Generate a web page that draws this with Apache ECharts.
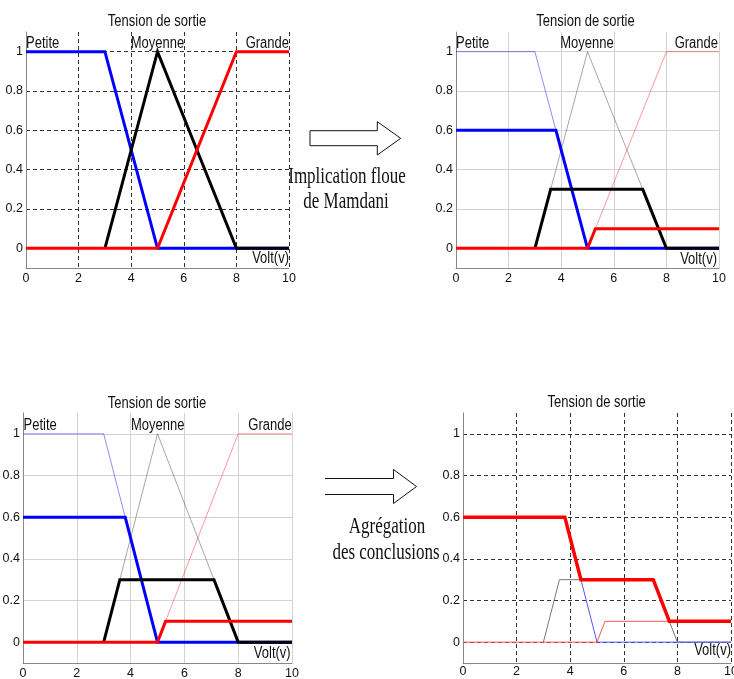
<!DOCTYPE html>
<html>
<head>
<meta charset="utf-8">
<script src="https://cdn.jsdelivr.net/npm/echarts@6/dist/echarts.min.js"></script>
<style>
  html, body { margin: 0; padding: 0; background: #fff; }
  #chart { width: 734px; height: 679px; }
</style>
</head>
<body>
<div id="chart"></div>
<script>
// Axis ticks
const xTicks = [0, 2, 4, 6, 8, 10];
const yTicks = [0, 0.2, 0.4, 0.6, 0.8, 1];

// Membership functions of the output "Tension de sortie" (x in volts, membership degree)
const petite = [[0, 1], [3, 1], [5, 0], [10, 0]];
const moyenne = [[3, 0], [5, 1], [8, 0], [10, 0]];
const grande = [[0, 0], [5, 0], [8, 1], [10, 1]];

// Mamdani implication: each set clipped at its rule strength
const petiteCut = [[0, 0.6], [3.8, 0.6], [5, 0], [10, 0]];
const moyenneCut = [[3, 0], [3.6, 0.3], [7.1, 0.3], [8, 0], [10, 0]];
const grandeCut = [[0, 0], [5, 0], [5.3, 0.1], [10, 0.1]];

// Aggregated conclusion (max of the clipped sets)
const aggregate = [[0, 0.6], [3.8, 0.6], [4.4, 0.3], [7.1, 0.3], [7.7, 0.1], [10, 0.1]];

// Text
const chartTitle = 'Tension de sortie';
const setNames = ['Petite', 'Moyenne', 'Grande'];
const xName = 'Volt(v)';
const step1 = ['Implication floue', 'de Mamdani'];
const step2 = ['Agrégation', 'des conclusions'];

const BLUE = '#0000ff', BLACK = '#000000', RED = '#ff0000';
const SANS = '"Liberation Sans", Arial, sans-serif';
const SERIF = '"Liberation Serif", "Times New Roman", serif';

const grids = [
  { left: 26, top: 32, width: 263, height: 236, outerBoundsMode: 'none' },
  { left: 456, top: 32, width: 263, height: 236, outerBoundsMode: 'none' },
  { left: 23, top: 413, width: 269, height: 250, outerBoundsMode: 'none' },
  { left: 463, top: 413, width: 268, height: 250, outerBoundsMode: 'none' }
];
const dashedGrid = { show: true, lineStyle: { color: '#333', width: 1, type: [4, 3] } };
const solidGrid = { show: true, lineStyle: { color: '#d2d2d2', width: 1, type: 'solid' } };
const gridStyles = [dashedGrid, solidGrid, solidGrid, dashedGrid];
const xMargins = [4, 4, 4, 2];

const xAxes = grids.map((g, i) => ({
  gridIndex: i, type: 'value', min: 0, max: 10, interval: 2,
  axisLine: { onZero: false, lineStyle: { color: '#888', width: 1 } },
  axisTick: { show: false },
  axisLabel: { color: '#111', fontSize: 12.5, fontFamily: SANS, margin: xMargins[i],
    showMinLabel: true, showMaxLabel: true, hideOverlap: false },
  splitLine: gridStyles[i]
}));
const yAxes = grids.map((g, i) => ({
  gridIndex: i, type: 'value', min: -0.1, max: 1.1,
  axisLine: { show: true, onZero: false, lineStyle: { color: '#888', width: 1 } },
  axisTick: { show: false, customValues: yTicks },
  axisLabel: { color: '#111', fontSize: 12.5, fontFamily: SANS, margin: 3, customValues: yTicks },
  splitLine: gridStyles[i]
}));

function line(idx, data, color, width, opacity, z) {
  return {
    type: 'line', xAxisIndex: idx, yAxisIndex: idx, data: data,
    showSymbol: false, symbol: 'none', silent: true, z: z || 2,
    lineStyle: { color: color, width: width, opacity: opacity == null ? 1 : opacity, cap: 'butt', join: 'miter' }
  };
}

const series = [
  // membership functions
  line(0, petite, BLUE, 3),
  line(0, moyenne, BLACK, 3),
  line(0, grande, RED, 3),
  // implication
  line(1, petite, BLUE, 1, 0.45),
  line(1, moyenne, BLACK, 1, 0.35),
  line(1, grande, RED, 1, 0.4),
  line(1, petiteCut, BLUE, 3),
  line(1, moyenneCut, BLACK, 3),
  line(1, grandeCut, RED, 3),
  // implication (copy before aggregation)
  line(2, petite, BLUE, 1, 0.45),
  line(2, moyenne, BLACK, 1, 0.35),
  line(2, grande, RED, 1, 0.4),
  line(2, petiteCut, BLUE, 3),
  line(2, moyenneCut, BLACK, 3),
  line(2, grandeCut, RED, 3),
  // aggregation
  line(3, moyenneCut, '#777', 1),
  line(3, petiteCut, '#5555ff', 1),
  line(3, grandeCut, '#ff5555', 1),
  line(3, aggregate, RED, 3.5, 1, 3)
];

function label(text, x, y, align, size, sy, font) {
  return {
    type: 'text', x: x, y: y, scaleY: sy || 1.2, z: 10, silent: true,
    style: { text: text, fill: '#111', font: (size || 13) + 'px ' + (font || SANS),
      textAlign: align || 'center', textVerticalAlign: 'middle' }
  };
}

const graphic = [
  // chart 1
  label(chartTitle, 157, 21.5, 'center', 13, 1.25),
  label(setNames[0], 26, 44, 'left'),
  label(setNames[1], 157.5, 44, 'center'),
  label(setNames[2], 289, 44, 'right'),
  label(xName, 289, 259, 'right'),
  // chart 2
  label(chartTitle, 585.5, 21.5, 'center', 13, 1.25),
  label(setNames[0], 456, 44, 'left'),
  label(setNames[1], 587, 44, 'center'),
  label(setNames[2], 718, 44, 'right'),
  label(xName, 717, 259.5, 'right'),
  // chart 3
  label(chartTitle, 157, 404, 'center', 13, 1.25),
  label(setNames[0], 23.5, 426, 'left'),
  label(setNames[1], 157.7, 426, 'center'),
  label(setNames[2], 291.7, 426, 'right'),
  label(xName, 290.7, 654, 'right'),
  // chart 4
  label(chartTitle, 596.7, 402.5, 'center', 13, 1.25),
  label(xName, 731, 651, 'right'),
  // step captions
  label(step1[0], 347, 177, 'center', 17, 1.4, SERIF),
  label(step1[1], 346, 201.5, 'center', 17, 1.4, SERIF),
  label(step2[0], 387, 527, 'center', 17, 1.4, SERIF),
  label(step2[1], 386, 553, 'center', 17, 1.4, SERIF),
  // hollow arrow (implication)
  {
    type: 'polygon', silent: true, z: 10,
    shape: { points: [[310, 130.7], [377.3, 130.7], [377.3, 121.7], [400.7, 138.3], [377.3, 155], [377.3, 145.7], [310, 145.7]] },
    style: { fill: '#fff', stroke: '#111', lineWidth: 1 }
  },
  // double arrow (aggregation)
  {
    type: 'polyline', silent: true, z: 10,
    shape: { points: [[325, 478.5], [393.5, 478.5], [393.5, 469.5], [416.5, 486.5], [393.5, 503.5], [393.5, 494.5], [325, 494.5]] },
    style: { fill: null, stroke: '#111', lineWidth: 1 }
  }
];

const chart = echarts.init(document.getElementById('chart'), null, { renderer: 'canvas' });
chart.setOption({
  animation: false,
  backgroundColor: '#fff',
  grid: grids,
  xAxis: xAxes,
  yAxis: yAxes,
  series: series,
  graphic: graphic
});
</script>
</body>
</html>
